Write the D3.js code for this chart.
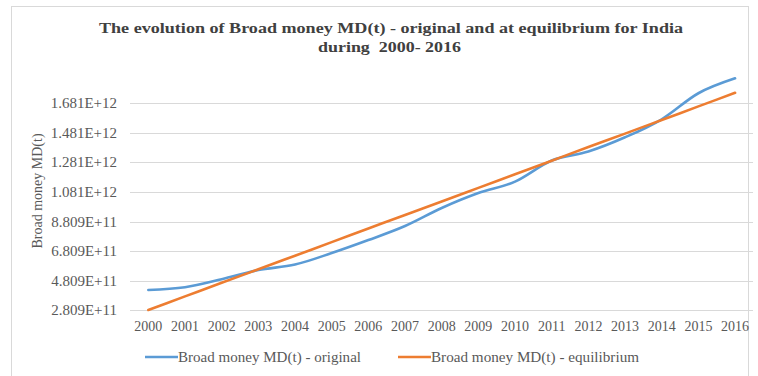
<!DOCTYPE html>
<html lang="en">
<head>
  <meta charset="UTF-8">
  <title>Broad money MD(t) - India</title>
  <script src="https://d3js.org/d3.v7.min.js"></script>
  <style>
    body { margin: 0; background: #fff; }
    svg { display: block; font-family: "Liberation Serif", "Times New Roman", serif; }
    .grid line { stroke: #d9d9d9; stroke-width: 1px; }
    .tick-label { fill: #595959; }
  </style>
</head>
<body>
  <div id="chart"></div>
  <script>
    const years = ["2000", "2001", "2002", "2003", "2004", "2005", "2006", "2007", "2008",
                   "2009", "2010", "2011", "2012", "2013", "2014", "2015", "2016"];
    const original = [4.18e11, 4.37e11, 4.91e11, 5.53e11, 5.90e11, 6.68e11, 7.56e11, 8.51e11, 9.73e11,
                      1.074e12, 1.151e12, 1.294e12, 1.355e12, 1.451e12, 1.573e12, 1.749e12, 1.850e12];
    const equilibrium = [2.83e11, 3.75e11, 4.67e11, 5.58e11, 6.50e11, 7.42e11, 8.34e11, 9.26e11, 1.017e12,
                         1.109e12, 1.201e12, 1.293e12, 1.385e12, 1.476e12, 1.568e12, 1.660e12, 1.752e12];
    const yTicks = [2.809e11, 4.809e11, 6.809e11, 8.809e11, 1.081e12, 1.281e12, 1.481e12, 1.681e12];
    const seriesNames = ["Broad money MD(t) - original", "Broad money MD(t) - equilibrium"];
    const colors = ["#5b9bd5", "#ed7d31"];

    const width = 758, height = 376;
    const svg = d3.select("#chart").append("svg")
      .attr("width", width)
      .attr("height", height);

    // outer frame
    svg.append("rect")
      .attr("x", 11.5).attr("y", 6.5)
      .attr("width", 737).attr("height", 380)
      .attr("fill", "none")
      .attr("stroke", "#d9d9d9");

    // title
    svg.append("text")
      .attr("x", 99).attr("y", 33)
      .attr("textLength", 584).attr("lengthAdjust", "spacingAndGlyphs")
      .attr("font-size", 15.5).attr("font-weight", "bold").attr("fill", "#404040")
      .text("The evolution of Broad money MD(t) - original and at equilibrium  for India");
    svg.append("text")
      .attr("x", 318).attr("y", 52)
      .attr("textLength", 143).attr("lengthAdjust", "spacingAndGlyphs")
      .attr("font-size", 15.5).attr("font-weight", "bold").attr("fill", "#404040")
      .attr("xml:space", "preserve")
      .text("during  2000- 2016");

    const x = d3.scalePoint()
      .domain(years)
      .range([130, 753.4])
      .padding(0.5);

    const y = d3.scaleLinear()
      .domain([2.809e11, 1.681e12])
      .range([310.3, 103.3]);

    const fmt = v => v.toExponential(3).replace("e", "E");

    // gridlines
    svg.append("g")
      .attr("class", "grid")
      .selectAll("line")
      .data(yTicks)
      .enter().append("line")
      .attr("x1", 130).attr("x2", 753)
      .attr("y1", d => Math.round(y(d)) + 0.5)
      .attr("y2", d => Math.round(y(d)) + 0.5);

    // y tick labels
    svg.append("g")
      .selectAll("text")
      .data(yTicks)
      .enter().append("text")
      .attr("class", "tick-label")
      .attr("x", 117)
      .attr("y", d => y(d) + 5)
      .attr("text-anchor", "end")
      .attr("font-size", 15)
      .text(fmt);

    // x tick labels
    svg.append("g")
      .selectAll("text")
      .data(years)
      .enter().append("text")
      .attr("class", "tick-label")
      .attr("x", d => x(d))
      .attr("y", 331)
      .attr("text-anchor", "middle")
      .attr("font-size", 14)
      .text(d => d);

    // y axis title
    svg.append("text")
      .attr("transform", "translate(42,191) rotate(-90)")
      .attr("text-anchor", "middle")
      .attr("font-size", 14)
      .attr("fill", "#595959")
      .text("Broad money MD(t)");

    const line = d3.line()
      .x((d, i) => x(years[i]))
      .y(d => y(d))
      .curve(d3.curveMonotoneX);

    [original, equilibrium].forEach((s, i) => {
      svg.append("path")
        .datum(s)
        .attr("d", line)
        .attr("fill", "none")
        .attr("stroke", colors[i])
        .attr("stroke-width", 2.6)
        .attr("stroke-linecap", "round");
    });

    // legend
    const legendX = [145, 398];
    const legendW = [183, 208];
    const legend = svg.append("g");
    seriesNames.forEach((name, i) => {
      legend.append("line")
        .attr("x1", legendX[i]).attr("x2", legendX[i] + 33)
        .attr("y1", 357).attr("y2", 357)
        .attr("stroke", colors[i])
        .attr("stroke-width", 2.6);
      legend.append("text")
        .attr("x", legendX[i] + 33)
        .attr("y", 362)
        .attr("font-size", 14)
        .attr("fill", "#595959")
        .attr("textLength", legendW[i]).attr("lengthAdjust", "spacingAndGlyphs")
        .text(name);
    });
  </script>
</body>
</html>
